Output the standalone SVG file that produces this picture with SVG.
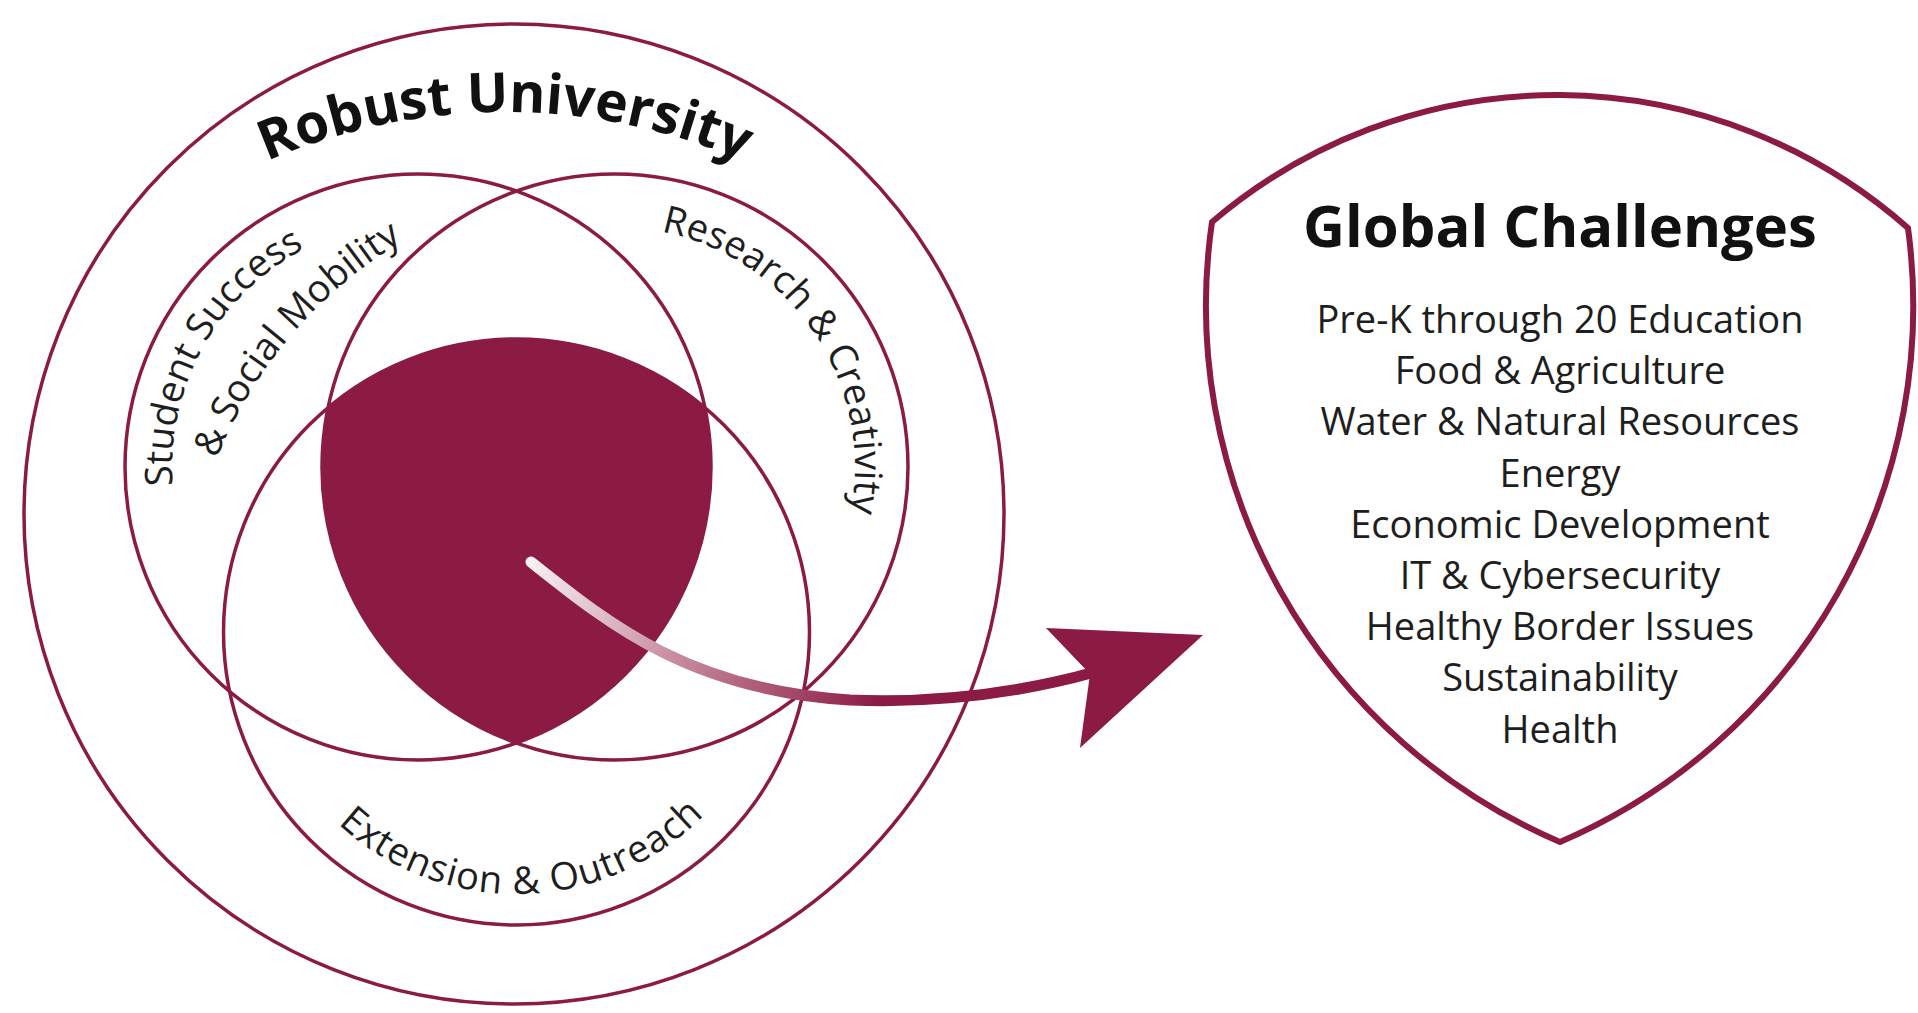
<svg xmlns="http://www.w3.org/2000/svg" width="1918" height="1013" viewBox="0 0 1918 1013">
  <style>
    .ring { fill: none; stroke: #8b1a44; stroke-width: 3.5; }
    .lbl { font-family: "Open Sans", "Liberation Sans", sans-serif; font-size: 38px; fill: #1e1e1e; }
    .title { font-family: "Open Sans", "Liberation Sans", sans-serif; font-weight: bold; fill: #111; }
  </style>
  <defs>
    <path id="p-robust" d="M -95 712 A 600 600 0 0 1 1105 712"/>
    <path id="p-student1" d="M 418 713 A 246 246 0 0 1 418 221 A 246 246 0 0 1 418 713"/>
    <path id="p-student2" d="M 184 627 A 450 450 0 0 1 634 177"/>
    <path id="p-research" d="M 615 707 A 240 240 0 0 1 615 227 A 240 240 0 0 1 615 707"/>
    <path id="p-extension" d="M 254.5 632 A 262 262 0 0 0 778.5 632"/>
    <linearGradient id="shaftGrad" gradientUnits="userSpaceOnUse" x1="531" y1="562" x2="880" y2="700">
      <stop offset="0" stop-color="#f8f0f3"/>
      <stop offset="0.45" stop-color="#c78c9f"/>
      <stop offset="1" stop-color="#8b1a44"/>
    </linearGradient>
  </defs>

  <rect width="1918" height="1013" fill="#ffffff"/>

  <g id="robust-university">
    <circle class="ring" cx="514" cy="514" r="490"/>
    <text class="title" font-size="55"><textPath href="#p-robust" startOffset="50%" text-anchor="middle">Robust University</textPath></text>
  </g>

  <g id="core">
    <path d="M 328 407.6 A 293 293 0 0 1 705 407.6 A 293 293 0 0 1 516.5 742.9 A 293 293 0 0 1 328 407.6 Z" fill="#8b1a44"/>
  </g>

  <g id="student-success">
    <circle class="ring" cx="418" cy="467" r="293"/>
    <text class="lbl"><textPath href="#p-student1" startOffset="511" text-anchor="middle">Student Success</textPath></text>
    <text class="lbl"><textPath href="#p-student2" startOffset="318" text-anchor="middle">&amp; Social Mobility</textPath></text>
  </g>

  <g id="research-creativity">
    <circle class="ring" cx="615" cy="467" r="293"/>
    <text class="lbl"><textPath href="#p-research" startOffset="988" text-anchor="middle">Research &amp; Creativity</textPath></text>
  </g>

  <g id="extension-outreach">
    <circle class="ring" cx="516.5" cy="632" r="293"/>
    <text class="lbl" letter-spacing="1"><textPath href="#p-extension" startOffset="418" text-anchor="middle">Extension &amp; Outreach</textPath></text>
  </g>

  <g id="global-challenges">
    <path d="M 1212 222 A 531 531 0 0 1 1908 228 A 583 583 0 0 1 1560 842 A 583 583 0 0 1 1212 222 Z" fill="#ffffff" stroke="#8b1a44" stroke-width="6" stroke-linejoin="miter"/>
    <text class="title" font-size="58" x="1560" y="247" text-anchor="middle">Global Challenges</text>
    <g class="lbl" text-anchor="middle">
      <text x="1560" y="333">Pre-K through 20 Education</text>
      <text x="1560" y="384.2">Food &amp; Agriculture</text>
      <text x="1560" y="435.4">Water &amp; Natural Resources</text>
      <text x="1560" y="486.6">Energy</text>
      <text x="1560" y="537.8">Economic Development</text>
      <text x="1560" y="589">IT &amp; Cybersecurity</text>
      <text x="1560" y="640.2">Healthy Border Issues</text>
      <text x="1560" y="691.4">Sustainability</text>
      <text x="1560" y="742.6">Health</text>
    </g>
  </g>

  <g id="connectors">
    <path d="M 531 562 C 610 625, 690 690, 850 700 C 950 704, 1030 690, 1095 672" fill="none" stroke="url(#shaftGrad)" stroke-width="11" stroke-linecap="round"/>
    <polygon points="1046,628 1203,635 1080,748 1090,674" fill="#8b1a44"/>
  </g>
</svg>
